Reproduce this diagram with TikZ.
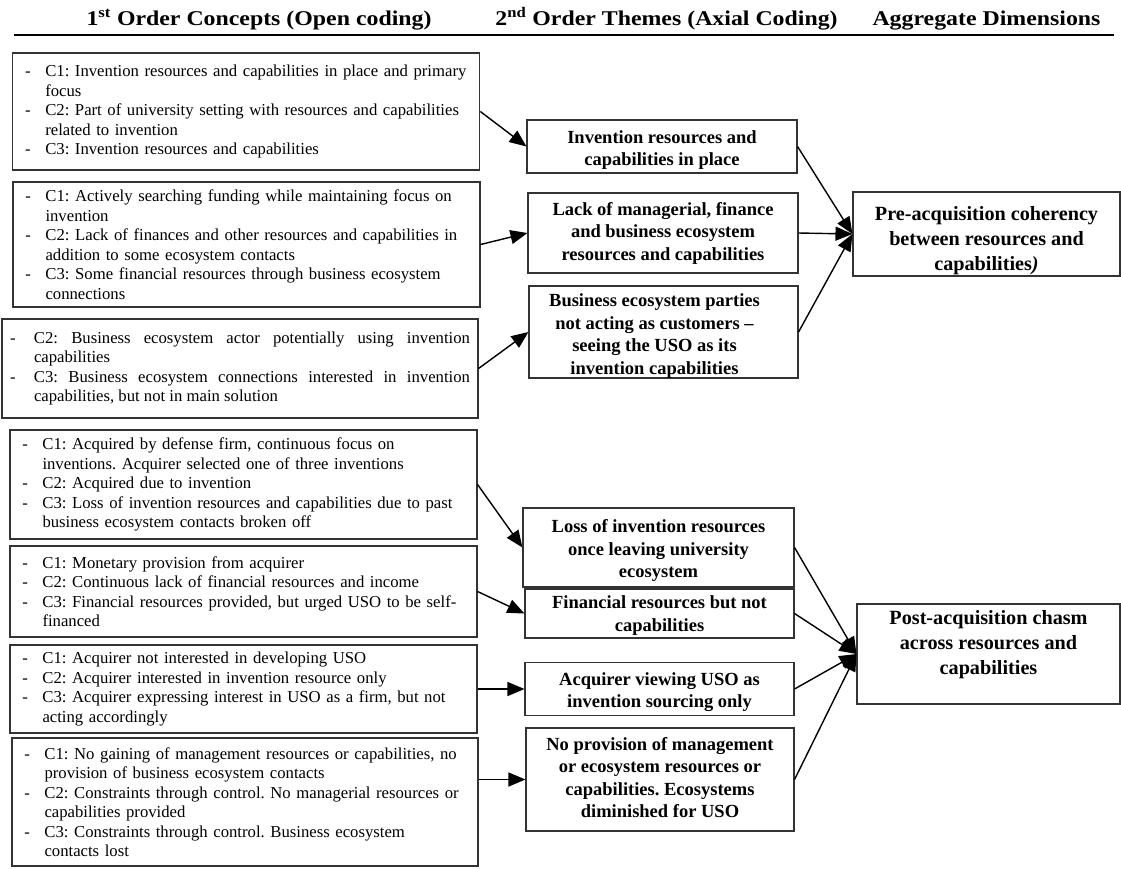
\documentclass[tikz,border=0pt]{standalone}
\usepackage{fontspec}
\setmainfont{Liberation Serif}
\usetikzlibrary{arrows.meta}
\frenchspacing
% list item with a dash and a hanging indent
\newcommand\li[1]{\noindent\hangindent=28.5pt\hangafter=1\makebox[28.5pt][l]{\hspace{8.3pt}-}\ignorespaces#1\par}
\newcommand\lj[1]{\noindent\hangindent=24pt\hangafter=1\makebox[24pt][l]{-}\ignorespaces#1\par}
\newcommand\hd[1]{\scalebox{1.135}[1]{#1}}
% centred lines, moved vertically by #1 inside their box
\newcommand\sh[2]{\raisebox{#1}[\height][\depth]{\begin{tabular}{@{}c@{}}#2\end{tabular}}}
\tikzset{
  lbox/.style={draw=black!80, line width=1.1pt, inner xsep=4pt, inner ysep=0pt, align=left,
    font=\fontsize{16.7}{19.5}\selectfont},
  mbox/.style={draw=black!80, line width=1.1pt, inner sep=0pt,
    font=\fontsize{18.5}{22.5}\selectfont\bfseries},
  rbox/.style={draw=black!80, line width=1.1pt, inner sep=0pt,
    font=\fontsize{20.2}{25}\selectfont\bfseries},
  head/.style={font=\fontsize{21}{24}\selectfont\bfseries, inner sep=0pt, anchor=base},
  arr/.style={line width=1.4pt, -{Triangle[length=17pt,width=14pt]}},
}
\begin{document}
\begin{tikzpicture}[x=1pt,y=-1pt]
\useasboundingbox (0,0) rectangle (1121,868);
% headers
\node[head] (H1) at (259,25) {\hd{1\textsuperscript{st} Order Concepts (Open coding)}};
\node[head] (H2) at (666.5,25) {\hd{2\textsuperscript{nd} Order Themes (Axial Coding)}};
\node[head] (H3) at (986.5,25) {\hd{Aggregate Dimensions}};
\draw[line width=1.6pt] (14,35) coordinate (hl) -- (1114,35) coordinate (hr);
% left boxes
\node[lbox, text width=459pt, minimum height=117pt] (L1) at (246.3,111.5) {%
\li{\mbox{C1: Invention resources and capabilities in place and primary}\newline focus}%
\li{\mbox{C2: Part of university setting with resources and capabilities}\newline related to invention}%
\li{C3: Invention resources and capabilities}};
\node[lbox, text width=459pt, minimum height=125pt] (L2) at (246.5,244.5) {%
\li{\mbox{C1: Actively searching funding while maintaining focus on}\newline invention}%
\li{\mbox{C2: Lack of finances and other resources and capabilities in}\newline addition to some ecosystem contacts}%
\li{\mbox{C3: Some financial resources through business ecosystem}\newline connections}};
\node[lbox, text width=460pt, inner xsep=8pt, minimum height=99pt, align=justify] (L3) at (240,368.5) {%
\lj{C2: Business ecosystem actor potentially using invention\linebreak capabilities}%
\lj{C3: Business ecosystem connections interested in invention\linebreak capabilities, but not in main solution}};
\node[lbox, text width=459pt, minimum height=109pt] (L4) at (243.5,484.5) {%
\li{\mbox{C1: Acquired by defense firm, continuous focus on}\newline \mbox{inventions. Acquirer selected one of three inventions}}%
\li{C2: Acquired due to invention}%
\li{\mbox{C3: Loss of invention resources and capabilities due to past}\newline business ecosystem contacts broken off}};
\node[lbox, text width=459pt, minimum height=91pt] (L5) at (243.5,591.5) {%
\li{C1: Monetary provision from acquirer}%
\li{\mbox{C2: Continuous lack of financial resources and income}}%
\li{\mbox{C3: Financial resources provided, but urged USO to be self-}\newline financed}};
\node[lbox, text width=459pt, minimum height=88pt] (L6) at (243.5,689) {%
\li{C1: Acquirer not interested in developing USO}%
\li{\mbox{C2: Acquirer interested in invention resource only}}%
\li{\mbox{C3: Acquirer expressing interest in USO as a firm, but not}\newline acting accordingly}};
\node[lbox, text width=458pt, minimum height=128pt] (L7) at (245,802) {%
\li{\mbox{C1: No gaining of management resources or capabilities, no}\newline provision of business ecosystem contacts}%
\li{\mbox{C2: Constraints through control. No managerial resources or}\newline capabilities provided}%
\li{\mbox{C3: Constraints through control. Business ecosystem}\newline contacts lost}};
% middle boxes
\node[mbox, minimum width=270pt, minimum height=53pt] (M1) at (662,146.5) {\sh{-3.5pt}{Invention resources and\\capabilities in place}};
\node[mbox, minimum width=270pt, minimum height=80pt] (M2) at (663,233) {\sh{0pt}{Lack of managerial, finance\\and business ecosystem\\resources and capabilities}};
\node[mbox, minimum width=269pt, minimum height=92pt] (M3) at (663.5,332) {\hspace*{-18pt}\sh{-4pt}{Business ecosystem parties\\not acting as customers --\\seeing the USO as its\\invention capabilities}};
\node[mbox, minimum width=271pt, minimum height=79pt] (M4) at (658.5,547.5) {\sh{-3pt}{Loss of invention resources\\once leaving university\\ecosystem}};
\node[mbox, minimum width=269pt, minimum height=49pt] (M5) at (659.5,613.5) {\sh{-2pt}{Financial resources but not\\capabilities}};
\node[mbox, minimum width=269pt, minimum height=53pt] (M6) at (659.5,689) {\sh{-3pt}{Acquirer viewing USO as\\invention sourcing only}};
\node[mbox, minimum width=268pt, minimum height=103pt] (M7) at (660,779.5) {\sh{0pt}{No provision of management\\or ecosystem resources or\\capabilities. Ecosystems\\diminished for USO}};
% right boxes
\node[rbox, minimum width=267pt, minimum height=84pt] (R1) at (986.5,234) {\sh{-6.5pt}{Pre-acquisition coherency\\between resources and\\capabilities\textit{)}}};
\node[rbox, minimum width=263pt, minimum height=100pt] (R2) at (988.5,654) {\sh{10pt}{Post-acquisition chasm\\across resources and\\capabilities}};
% arrows left -> middle
\draw[arr] (L1.east) -- (M1.west);
\draw[arr] (L2.east) -- (M2.west);
\draw[arr] (L3.east) -- (M3.west);
\draw[arr] (L4.east) -- (M4.west);
\draw[arr] (L5.east) -- (M5.west);
\draw[arr] (L6.east) -- (M6.west);
\draw[arr] (L7.east |- M7.west) -- (M7.west);
% arrows middle -> right
\draw[arr] (M1.east) -- (R1.west);
\draw[arr] (M2.east) -- (R1.west);
\draw[arr] (M3.east) -- (R1.west);
\draw[arr] (M4.east) -- (R2.west);
\draw[arr] (M5.east) -- (R2.west);
\draw[arr] (M6.east) -- (R2.west);
\draw[arr] (M7.east) -- (R2.west);
\end{tikzpicture}
\end{document}
